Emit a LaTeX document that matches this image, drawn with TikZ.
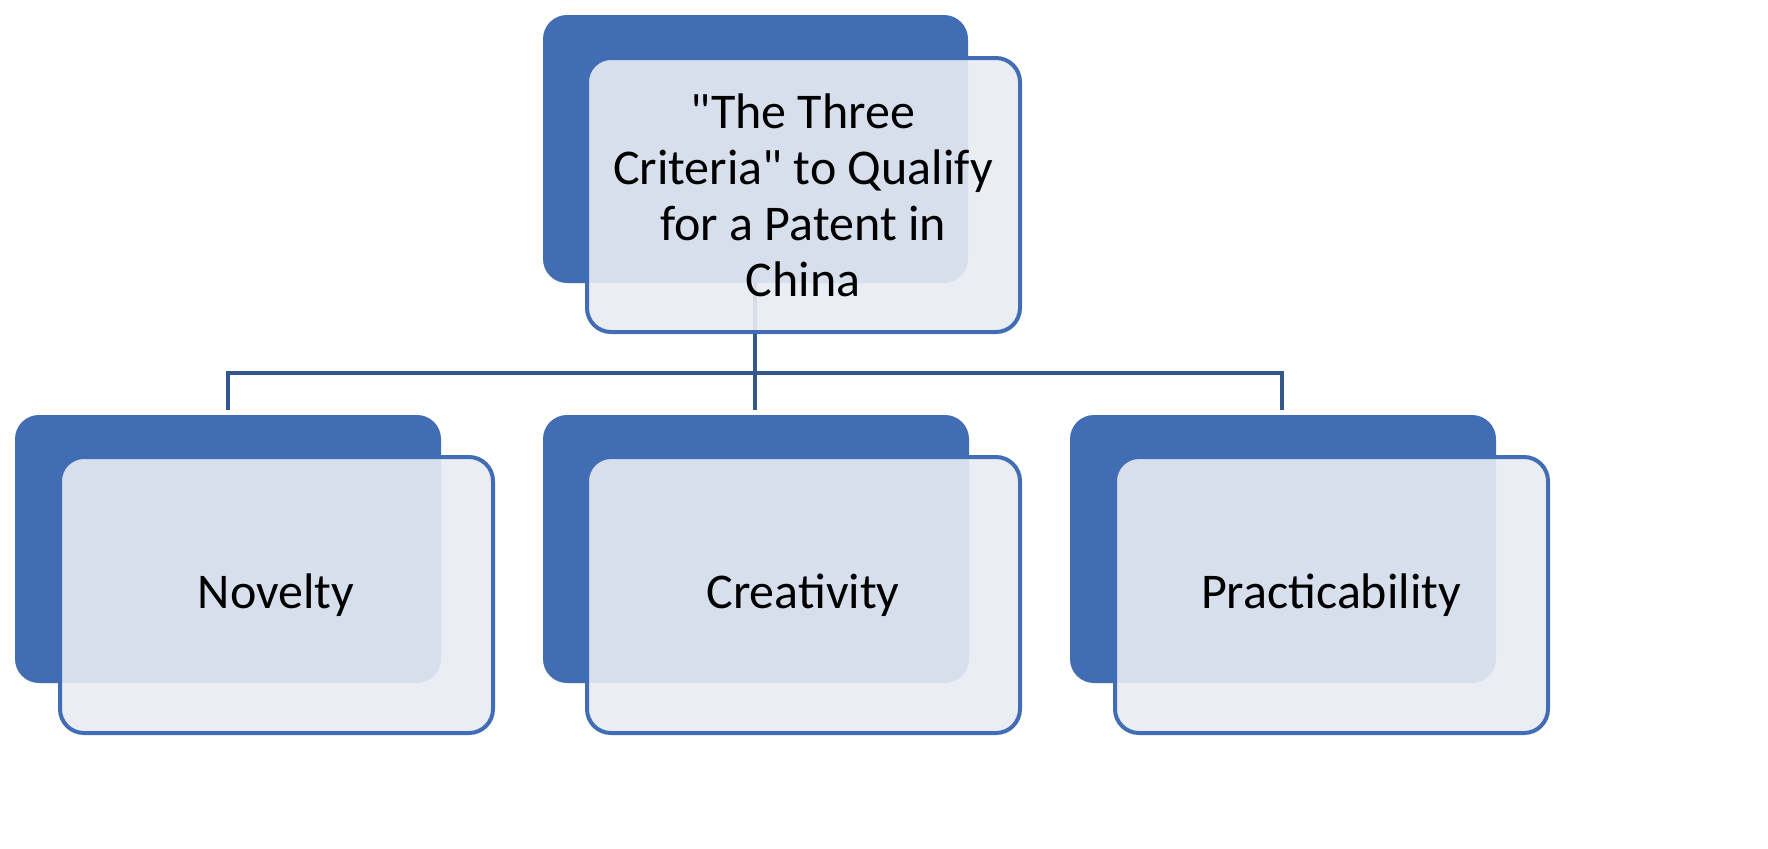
\documentclass[tikz,border=0pt]{standalone}
\usepackage{fontspec}
\setmainfont{Carlito}[Ligatures=TeXOff]
\definecolor{cblue}{HTML}{416DB4}
\definecolor{cfill}{HTML}{E8ECF3}
\begin{document}
\begin{tikzpicture}[x=0.5pt,y=-0.5pt,
  back/.style={fill=cblue,rounded corners=12pt},
  front/.style={draw=cblue,line width=2pt,fill=cfill,fill opacity=0.9,rounded corners=12pt},
  lbl/.style={align=center,font=\fontsize{25}{28}\selectfont,text=black},
  conn/.style={draw=cblue!80!black,line width=2.2pt}]
% connectors
\coordinate (t) at (755,283);
\coordinate (j) at (755,373);
\coordinate (l) at (228,373);
\coordinate (r) at (1282,373);
\coordinate (lb) at (228,410);
\coordinate (mb) at (755,410);
\coordinate (rb) at (1282,410);
\draw[conn] (t) -- (j) -- (mb);
\draw[conn] (lb) -- (l) -- (r) -- (rb);
% top
\fill[back] (543,15) rectangle (968,283);
\draw[front] (587,58) rectangle (1020,332);
\node[lbl] (top) at (803,195) {"The Three\\Criteria" to Qualify\\for a Patent in\\China};
% bottom
\fill[back] (15,415) rectangle (441,683);
\draw[front] (60,457) rectangle (493,733);
\node[lbl] (a) at (276,595) {Novelty};
\fill[back] (543,415) rectangle (969,683);
\draw[front] (587,457) rectangle (1020,733);
\node[lbl] (b) at (803,595) {Creativity};
\fill[back] (1070,415) rectangle (1496,683);
\draw[front] (1115,457) rectangle (1548,733);
\node[lbl] (c) at (1331,595) {Practicability};
\pgfresetboundingbox
\useasboundingbox (0,0) rectangle (1768,848);
\end{tikzpicture}
\end{document}
